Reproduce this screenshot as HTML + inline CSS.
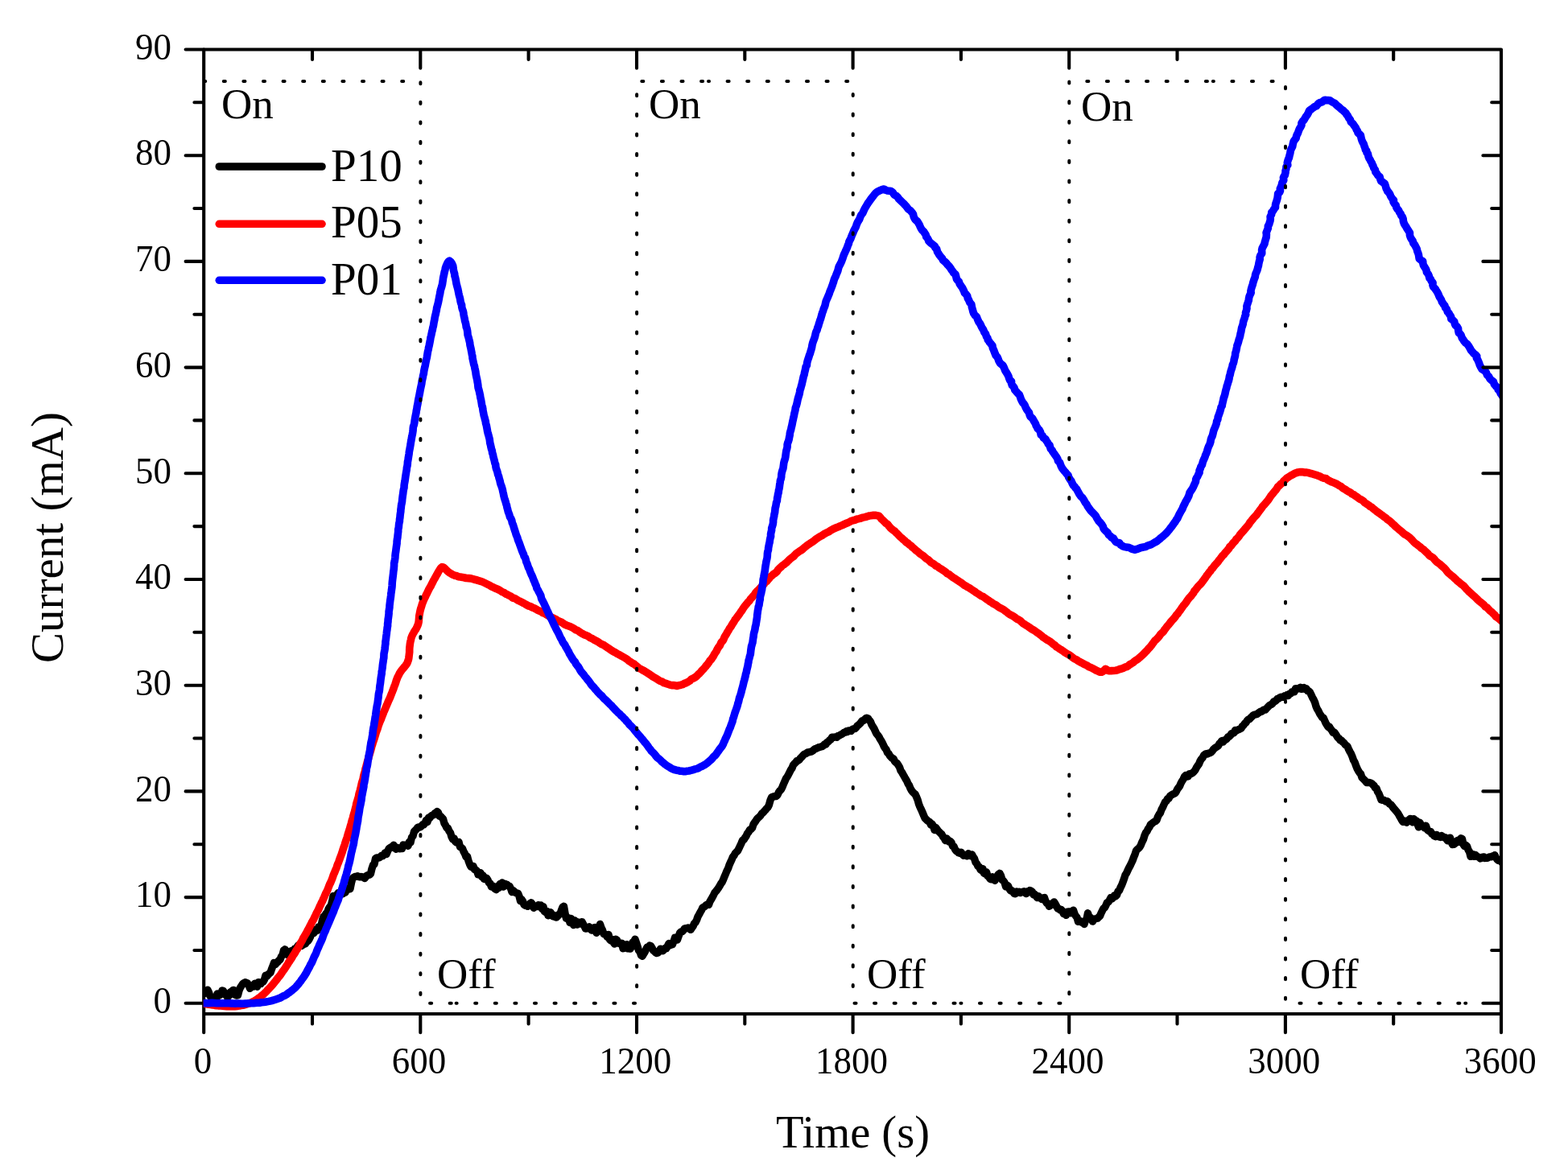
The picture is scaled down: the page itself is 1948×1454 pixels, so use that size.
<!DOCTYPE html>
<html lang="en"><head><meta charset="utf-8"><title>Current vs Time</title>
<style>html,body{margin:0;padding:0;background:#fff;overflow:hidden}svg{display:block}</style>
</head><body>
<svg width="1948" height="1454" viewBox="0 0 1948 1454" role="img" aria-label="Current (mA) versus Time (s) for P10, P05 and P01 under On/Off cycling">
<rect width="1948" height="1454" fill="#fff"/>
<path d="M253.2,61.5V1283.1999999999998M253.2,1260.0H1865.0M230.6,1246.8H252.2M241.4,1181H252.2M230.6,1115.1H252.2M241.4,1049.2H252.2M230.6,983.4H252.2M241.4,917.5H252.2M230.6,851.7H252.2M241.4,785.8H252.2M230.6,720H252.2M241.4,654.1H252.2M230.6,588.3H252.2M241.4,522.4H252.2M230.6,456.6H252.2M241.4,390.8H252.2M230.6,324.9H252.2M241.4,259H252.2M230.6,193.2H252.2M241.4,127.3H252.2M388,1261V1272.4M522.3,1261V1283.2M656.6,1261V1272.4M791,1261V1283.2M925.3,1261V1272.4M1059.6,1261V1283.2M1193.9,1261V1272.4M1328.2,1261V1283.2M1462.5,1261V1272.4M1596.9,1261V1283.2M1731.2,1261V1272.4" stroke="#000" stroke-width="4.1" stroke-linecap="round" fill="none"/>
<clipPath id="c"><rect x="252.7" y="51.5" width="1612.3" height="1208.5"/></clipPath>
<g fill="none" stroke-linejoin="round" stroke-linecap="round" clip-path="url(#c)">
<path d="M252,1233.5L253.5,1234.7L255,1232.9L256.5,1231.8L258,1230.3L259.5,1233.4L261,1237.9L262.5,1239L264,1241.2L265.5,1241.2L267,1241.5L268.5,1239.7L270,1235L271.5,1237.5L273,1236.6L274.5,1235.6L276,1231L277.5,1231.5L279,1234.1L280.5,1236.2L282,1238.7L283.5,1238.2L285,1236.8L286.5,1232.7L288,1232L289.5,1230.4L291,1230.7L292.5,1236.5L294,1237L295.5,1236.8L297,1231L298.5,1227.4L300,1225.2L301.5,1222.9L303,1221.6L304.5,1220.8L306,1221.3L307.5,1221.9L309,1224.3L310.5,1228.4L312,1225L313.5,1225.8L315,1226L316.5,1222.3L318,1223.9L319.5,1226.2L321,1220.6L322.5,1222.2L324,1222.6L325.5,1220.3L327,1220.1L328.5,1217.3L330,1212.2L331.5,1213.2L333,1211.4L334.5,1209.9L336,1208.8L337.5,1204.2L339,1200.4L340.5,1196.4L342,1198.6L343.5,1196.6L345,1195.6L346.5,1193.4L348,1192.7L349.5,1188.7L351,1186.7L352.5,1181L354,1179.8L355.5,1182.9L357,1186.6L358.5,1187.3L360,1184.2L361.5,1181.8L363,1184.5L364.5,1182.6L366,1179.2L367.5,1179L369,1176.8L370.5,1174.9L372,1174.4L373.5,1174.2L375,1175.3L376.5,1174L378,1173.2L379.5,1172.7L381,1168.9L382.5,1169.5L384,1167.3L385.5,1164.4L387,1159L388.5,1158.8L390,1159.7L391.5,1155.5L393,1155.7L394.5,1156.1L396,1151.6L397.5,1152.9L399,1150.4L400.5,1143.4L402,1139.2L403.5,1137.8L405,1135.3L406.5,1134.6L408,1129.9L409.5,1127.2L411,1126.4L412.5,1120.4L414,1113.5L415.5,1114.8L417,1115.1L418.5,1112.1L420,1109.9L421.5,1110.6L423,1110.3L424.5,1109.5L426,1110.9L427.5,1107.4L429,1109L430.5,1105.2L432,1104.2L433.5,1105L435,1104.6L436.5,1097L438,1091.5L439.5,1090.4L441,1089.5L442.5,1089.4L444,1088.7L445.5,1089.3L447,1089.9L448.5,1089.4L450,1090.1L451.5,1089.9L453,1091.5L454.5,1089.6L456,1087.9L457.5,1087.4L459,1087.4L460.5,1085.8L462,1079.4L463.5,1075L465,1074L466.5,1067L468,1066L469.5,1066.2L471,1065.9L472.5,1065L474,1063.2L475.5,1063.6L477,1062.3L478.5,1059.7L480,1061.6L481.5,1058.1L483,1054.9L484.5,1053.6L486,1052.6L487.5,1053.1L489,1050.1L490.5,1052.6L492,1055.2L493.5,1053.3L495,1053.9L496.5,1054.8L498,1054.3L499.5,1054.5L501,1050L502.5,1050.3L504,1050L505.5,1050.8L507,1051.2L508.5,1046.1L510,1047L511.5,1040.5L513,1039L514.5,1033.4L516,1031.9L517.5,1030.4L519,1028.2L520.5,1027.8L522,1028L523.5,1026.7L525,1024.7L526.5,1024.9L528,1022.9L529.5,1019.3L531,1021.4L532.5,1016L534,1016.6L535.5,1014.2L537,1013.2L538.5,1012.7L540,1010.9L541.5,1010L543,1008.6L544.5,1009.9L546,1014.3L547.5,1014.5L549,1016.1L550.5,1017.7L552,1023.3L553.5,1025.6L555,1028.9L556.5,1029.2L558,1032.9L559.5,1034.8L561,1040L562.5,1043L564,1041.6L565.5,1045.7L567,1047L568.5,1047.3L570,1046.4L571.5,1052.5L573,1053.2L574.5,1054.5L576,1058.2L577.5,1060.9L579,1064.9L580.5,1064.3L582,1069.9L583.5,1073.9L585,1077.1L586.5,1076.5L588,1076.5L589.5,1080.5L591,1081L592.5,1082.3L594,1086.7L595.5,1086.5L597,1084.8L598.5,1089.5L600,1087.9L601.5,1092.4L603,1092.7L604.5,1091.3L606,1093.6L607.5,1097.2L609,1098L610.5,1102L612,1100.8L613.5,1102.9L615,1104.7L616.5,1105.7L618,1101.6L619.5,1103.6L621,1098.5L622.5,1098.9L624,1096.9L625.5,1102L627,1098.1L628.5,1099.3L630,1099.3L631.5,1101L633,1101.3L634.5,1104.1L636,1108.6L637.5,1106.6L639,1107.8L640.5,1109.5L642,1109.9L643.5,1110.1L645,1113.7L646.5,1119.7L648,1117.8L649.5,1119.9L651,1124.2L652.5,1125.3L654,1124.7L655.5,1126.3L657,1125.5L658.5,1122.9L660,1121.8L661.5,1124L663,1128.2L664.5,1126.8L666,1126.5L667.5,1126.6L669,1124.6L670.5,1126.5L672,1125L673.5,1129.6L675,1126.6L676.5,1132.8L678,1133.7L679.5,1132.4L681,1137.7L682.5,1137.2L684,1133.8L685.5,1136.1L687,1138.7L688.5,1137.6L690,1139.8L691.5,1140L693,1138.3L694.5,1136.1L696,1135.9L697.5,1131L699,1127.4L700.5,1126.3L702,1135L703.5,1141.3L705,1140.3L706.5,1140.7L708,1146.5L709.5,1141.4L711,1145L712.5,1149.5L714,1143.9L715.5,1146.1L717,1149L718.5,1145.9L720,1146.9L721.5,1148L723,1145.6L724.5,1148.3L726,1151L727.5,1154.1L729,1153.9L730.5,1153.5L732,1152L733.5,1153.2L735,1156L736.5,1155L738,1152.9L739.5,1152.5L741,1159.3L742.5,1157.2L744,1155.4L745.5,1148.4L747,1152.9L748.5,1155.8L750,1160.6L751.5,1161L753,1162L754.5,1164.5L756,1161.4L757.5,1167.8L759,1168.9L760.5,1167.4L762,1171.1L763.5,1173L765,1167.3L766.5,1168.2L768,1171.3L769.5,1172.6L771,1172.7L772.5,1172.2L774,1178.7L775.5,1178.4L777,1174.5L778.5,1173.6L780,1178.8L781.5,1178L783,1179.1L784.5,1176.7L786,1171L787.5,1170.5L789,1167.2L790.5,1171.6L792,1176.1L793.5,1181.3L795,1182.8L796.5,1187.2L798,1188.3L799.5,1185.6L801,1183.4L802.5,1180.1L804,1177L805.5,1177L807,1175.1L808.5,1175.5L810,1177.9L811.5,1181L813,1182.2L814.5,1183.8L816,1184.6L817.5,1183.9L819,1182.4L820.5,1179.1L822,1180.9L823.5,1181.7L825,1180.2L826.5,1178.2L828,1178.5L829.5,1175.3L831,1172.4L832.5,1174.8L834,1172.3L835.5,1173.7L837,1169.7L838.5,1165.3L840,1165.7L841.5,1168L843,1163.6L844.5,1159.5L846,1157.9L847.5,1157.8L849,1156.2L850.5,1153.9L852,1153.7L853.5,1153.5L855,1153L856.5,1153.9L858,1155.4L859.5,1153.1L861,1151.2L862.5,1147.6L864,1146.2L865.5,1143.4L867,1139.1L868.5,1136.5L870,1133.6L871.5,1131.1L873,1127.8L874.5,1127.2L876,1126.1L877.5,1124.5L879,1123.9L880.5,1124.4L882,1120.2L883.5,1117.8L885,1115.2L886.5,1112.3L888,1109.2L889.5,1107.6L891,1105.6L892.5,1103.7L894,1101.2L895.5,1098.4L897,1096.4L898.5,1093.2L900,1089.5L901.5,1086L903,1082.3L904.5,1079.4L906,1075L907.5,1071.6L909,1068.5L910.5,1064.8L912,1063.1L913.5,1060.2L915,1058.7L916.5,1057.3L918,1054.4L919.5,1051.1L921,1047.9L922.5,1044.3L924,1043.8L925.5,1041.1L927,1039.1L928.5,1035.8L930,1034L931.5,1031.1L933,1030.5L934.5,1028.9L936,1024.4L937.5,1022.1L939,1020.1L940.5,1017.7L942,1016.3L943.5,1015L945,1013.3L946.5,1011L948,1009.8L949.5,1008.1L951,1006.5L952.5,1004.6L954,1003.2L955.5,1000.1L957,994.6L958.5,990.9L960,990.1L961.5,989.6L963,989.7L964.5,989.5L966,987.8L967.5,984.6L969,982.5L970.5,981.1L972,977.9L973.5,974.3L975,970.8L976.5,967.3L978,965.4L979.5,962.6L981,959.7L982.5,956.7L984,954.5L985.5,950.6L987,949L988.5,947.6L990,945.6L991.5,945.3L993,944.2L994.5,942.1L996,940.7L997.5,938.9L999,937.5L1000.5,936.8L1002,936L1003.5,935L1005,934.8L1006.5,934.4L1008,934.2L1009.5,933.2L1011,931.9L1012.5,930.6L1014,930.3L1015.5,929.6L1017,928.7L1018.5,928.6L1020,927.9L1021.5,927.6L1023,926.6L1024.5,924.8L1026,925L1027.5,922.5L1029,921.8L1030.5,920L1032,919.2L1033.5,916.3L1035,916.2L1036.5,916.2L1038,915.9L1039.5,916.3L1041,914.6L1042.5,914.2L1044,913.3L1045.5,912.6L1047,911.6L1048.5,910.4L1050,910.1L1051.5,908.8L1053,909.4L1054.5,907.9L1056,907.9L1057.5,908.4L1059,906.5L1060.5,905.7L1062,905.6L1063.5,904.3L1065,902.1L1066.5,901L1068,899.6L1069.5,898.1L1071,895.7L1072.5,895.6L1074,894.3L1075.5,892.8L1077,892.3L1078.5,892.9L1080,895.2L1081.5,896.9L1083,900.8L1084.5,903.1L1086,905.5L1087.5,908.9L1089,912L1090.5,913.7L1092,915.6L1093.5,918.7L1095,920.9L1096.5,923.7L1098,927.1L1099.5,929.8L1101,931.4L1102.5,935.3L1104,936.6L1105.5,939.3L1107,940.9L1108.5,942.4L1110,942.8L1111.5,946.1L1113,947.5L1114.5,948.6L1116,950.8L1117.5,953.3L1119,957.7L1120.5,959.7L1122,962.5L1123.5,965.1L1125,967.9L1126.5,970.2L1128,973.8L1129.5,976L1131,979.7L1132.5,982.4L1134,984.4L1135.5,985.8L1137,987L1138.5,990.3L1140,993.8L1141.5,999.3L1143,1003L1144.5,1006.1L1146,1009.5L1147.5,1013.1L1149,1016.6L1150.5,1018.1L1152,1019.6L1153.5,1020.7L1155,1021.6L1156.5,1025L1158,1024.1L1159.5,1026.3L1161,1031.5L1162.5,1028.5L1164,1030.4L1165.5,1032.6L1167,1034L1168.5,1035.6L1170,1036.9L1171.5,1039.7L1173,1041.5L1174.5,1044.5L1176,1041.9L1177.5,1043.5L1179,1045.9L1180.5,1045.5L1182,1046.9L1183.5,1051.4L1185,1051.8L1186.5,1055.5L1188,1057.6L1189.5,1058.4L1191,1059.9L1192.5,1060.4L1194,1059.1L1195.5,1061.5L1197,1063.2L1198.5,1062.4L1200,1063L1201.5,1063.8L1203,1060.8L1204.5,1062.1L1206,1063.7L1207.5,1062L1209,1064.8L1210.5,1066.8L1212,1071.7L1213.5,1073.2L1215,1076.6L1216.5,1077.1L1218,1080.6L1219.5,1081.7L1221,1079.8L1222.5,1085.2L1224,1086.2L1225.5,1083.7L1227,1088.6L1228.5,1089.6L1230,1092.2L1231.5,1092.7L1233,1089.8L1234.5,1091.2L1236,1094.2L1237.5,1090.9L1239,1088.4L1240.5,1086.5L1242,1085.3L1243.5,1088.2L1245,1093.4L1246.5,1094.5L1248,1096.5L1249.5,1101.8L1251,1100.1L1252.5,1101L1254,1104.7L1255.5,1107L1257,1106.7L1258.5,1108.1L1260,1110.6L1261.5,1110.7L1263,1108L1264.5,1108.9L1266,1108.3L1267.5,1109.5L1269,1108.7L1270.5,1108.4L1272,1107.8L1273.5,1109.7L1275,1110.5L1276.5,1107.7L1278,1108.9L1279.5,1106.5L1281,1107.2L1282.5,1108.4L1284,1111.8L1285.5,1111.2L1287,1113.2L1288.5,1115.6L1290,1113.6L1291.5,1115.9L1293,1115.6L1294.5,1117.6L1296,1115.9L1297.5,1115.6L1299,1120L1300.5,1122.4L1302,1122.8L1303.5,1126.3L1305,1124.4L1306.5,1123.2L1308,1124.3L1309.5,1120.9L1311,1123.1L1312.5,1125.9L1314,1129.1L1315.5,1129.4L1317,1130.9L1318.5,1130.4L1320,1132.5L1321.5,1135.7L1323,1133.4L1324.5,1137.4L1326,1133.1L1327.5,1133L1329,1132.9L1330.5,1134.7L1332,1132.3L1333.5,1131.1L1335,1135.8L1336.5,1138.3L1338,1140.2L1339.5,1145.3L1341,1144.1L1342.5,1144.9L1344,1146.3L1345.5,1146.1L1347,1148.5L1348.5,1144L1350,1142L1351.5,1134.8L1353,1140.4L1354.5,1140.1L1356,1142.4L1357.5,1145.1L1359,1142.5L1360.5,1141.8L1362,1141.5L1363.5,1141.2L1365,1139.6L1366.5,1138.5L1368,1134.8L1369.5,1131.7L1371,1128.8L1372.5,1127.8L1374,1124.9L1375.5,1121.5L1377,1120.9L1378.5,1118.5L1380,1115.6L1381.5,1117L1383,1115.4L1384.5,1112.8L1386,1113.8L1387.5,1112.4L1389,1107.6L1390.5,1106.9L1392,1103L1393.5,1100.1L1395,1096.2L1396.5,1092.1L1398,1087.3L1399.5,1085.1L1401,1081.8L1402.5,1078.6L1404,1075.9L1405.5,1072.8L1407,1069.6L1408.5,1065.4L1410,1061.9L1411.5,1057.1L1413,1055.5L1414.5,1054.2L1416,1052.7L1417.5,1049.8L1419,1046.1L1420.5,1043.1L1422,1038.1L1423.5,1034.8L1425,1033L1426.5,1029.8L1428,1027.9L1429.5,1024.5L1431,1023.6L1432.5,1022.3L1434,1021.2L1435.5,1020.6L1437,1019.1L1438.5,1014.9L1440,1012.1L1441.5,1010.1L1443,1006L1444.5,1003.2L1446,999.9L1447.5,996.7L1449,995.5L1450.5,992.7L1452,992.2L1453.5,989.4L1455,988.3L1456.5,987.4L1458,986.5L1459.5,986.2L1461,984.3L1462.5,981.2L1464,979L1465.5,977.1L1467,973.5L1468.5,970.8L1470,968.5L1471.5,965.2L1473,963.5L1474.5,965.1L1476,964.8L1477.5,961.8L1479,962L1480.5,961.1L1482,960.2L1483.5,958.7L1485,956.8L1486.5,953.7L1488,951.6L1489.5,949.5L1491,945.7L1492.5,943.3L1494,941.8L1495.5,938.7L1497,937.5L1498.5,936.6L1500,937L1501.5,936.1L1503,935.7L1504.5,935L1506,933.4L1507.5,931.3L1509,929.9L1510.5,928.8L1512,927.8L1513.5,926.8L1515,924L1516.5,922.7L1518,920.5L1519.5,922.1L1521,920L1522.5,919.3L1524,918.3L1525.5,915.9L1527,915.5L1528.5,914L1530,911.5L1531.5,911.2L1533,910.7L1534.5,907.5L1536,908L1537.5,907.2L1539,906.6L1540.5,905.8L1542,905L1543.5,902.5L1545,901.3L1546.5,899L1548,897.9L1549.5,895.4L1551,894L1552.5,893.6L1554,891.8L1555.5,890.4L1557,888.9L1558.5,888.1L1560,887.9L1561.5,887.5L1563,886.3L1564.5,885.4L1566,884.2L1567.5,884.4L1569,882.8L1570.5,881.9L1572,882.1L1573.5,880.4L1575,878.8L1576.5,877.2L1578,876L1579.5,875.4L1581,874.1L1582.5,871.9L1584,871.5L1585.5,870.3L1587,868.4L1588.5,868.2L1590,866.9L1591.5,866.1L1593,866.2L1594.5,866.3L1596,864.8L1597.5,864.9L1599,863.6L1600.5,864.5L1602,862.1L1603.5,861.9L1605,859.9L1606.5,859.6L1608,859.7L1609.5,855.8L1611,855.7L1612.5,856L1614,855.3L1615.5,854.4L1617,856.3L1618.5,855.7L1620,854.7L1621.5,856.5L1623,855.9L1624.5,858.6L1626,858.9L1627.5,860.4L1629,863.6L1630.5,866.8L1632,869.4L1633.5,872.7L1635,877.8L1636.5,881.3L1638,883.6L1639.5,886.9L1641,889.1L1642.5,891.5L1644,891.8L1645.5,895.1L1647,898.5L1648.5,900.9L1650,903.5L1651.5,903L1653,905.7L1654.5,907.5L1656,910.3L1657.5,909.9L1659,911.9L1660.5,914.1L1662,916.6L1663.5,917.6L1665,919.9L1666.5,920.1L1668,921.9L1669.5,923L1671,925.1L1672.5,926.4L1674,927.5L1675.5,931.2L1677,934.2L1678.5,936.7L1680,940.3L1681.5,944.6L1683,947.1L1684.5,951.2L1686,955L1687.5,957.9L1689,960.2L1690.5,961.8L1692,966.2L1693.5,967.8L1695,969.3L1696.5,970.9L1698,972.6L1699.5,972.5L1701,972.4L1702.5,972.9L1704,973.5L1705.5,975.1L1707,976.4L1708.5,979.1L1710,979.6L1711.5,983.9L1713,986.1L1714.5,990L1716,994L1717.5,994.3L1719,994.2L1720.5,995.2L1722,996.1L1723.5,995.7L1725,997.4L1726.5,999.2L1728,1000L1729.5,1001.8L1731,1003.9L1732.5,1005.6L1734,1007.3L1735.5,1009.2L1737,1011.1L1738.5,1013.9L1740,1016.5L1741.5,1019.1L1743,1021.4L1744.5,1019.9L1746,1021.3L1747.5,1022.1L1749,1020.1L1750.5,1018.8L1752,1017.4L1753.5,1018L1755,1021.9L1756.5,1017.6L1758,1020.8L1759.5,1019.8L1761,1024.1L1762.5,1027.9L1764,1022.2L1765.5,1025.3L1767,1027.2L1768.5,1027.1L1770,1028.9L1771.5,1026.1L1773,1030.9L1774.5,1032.3L1776,1033.2L1777.5,1033.6L1779,1036.5L1780.5,1036.8L1782,1039L1783.5,1039.6L1785,1037.5L1786.5,1039.5L1788,1039.9L1789.5,1040.5L1791,1038.7L1792.5,1039.7L1794,1040.9L1795.5,1040.8L1797,1042.9L1798.5,1044.8L1800,1041.7L1801.5,1041.1L1803,1046.2L1804.5,1049.5L1806,1049.4L1807.5,1048.5L1809,1045.8L1810.5,1044.6L1812,1046.2L1813.5,1043.7L1815,1041.7L1816.5,1042.4L1818,1049.4L1819.5,1051.7L1821,1050.3L1822.5,1051.6L1824,1056.1L1825.5,1058.4L1827,1064.4L1828.5,1063.8L1830,1061.8L1831.5,1064.4L1833,1062.5L1834.5,1064.1L1836,1064.8L1837.5,1065.2L1839,1066.9L1840.5,1066.3L1842,1065.1L1843.5,1064.9L1845,1066.5L1846.5,1066.2L1848,1066.2L1849.5,1065.3L1851,1064.9L1852.5,1064.9L1854,1064L1855.5,1064.3L1857,1062.8L1858.5,1065.9L1860,1068.1L1861.5,1069.3L1863,1069.4L1864.5,1069.8L1866,1071.9L1867.5,1071.6" stroke="#000" stroke-width="9.4"/>
<path d="M252,1247.2L254.5,1247.5L256.7,1247.8L259.2,1248.3L261.6,1248.5L264.2,1248.9L266.8,1249.4L269.2,1249.6L271.9,1249.9L274.3,1250L276.8,1250.3L279.3,1250.5L281.9,1250.7L284.5,1250.8L286.8,1250.8L289.3,1250.7L291.7,1250.6L294.3,1250.4L297.1,1250.1L299.5,1249.6L301.8,1249.3L304.2,1248.7L306.5,1248L308.9,1247.1L311.2,1246.3L313.4,1245.3L315.6,1244.1L317.7,1242.9L319.8,1241.6L321.7,1240.1L323.7,1238.7L325.7,1237L327.6,1235.4L329.4,1233.6L331.2,1231.8L332.8,1229.9L334.6,1228.2L336.4,1226.3L338.1,1224.4L339.7,1222.4L341.4,1220.4L342.9,1218.5L344.4,1216.5L346,1214.4L347.7,1212.5L349.1,1210.5L350.5,1208.3L351.9,1206.3L353.4,1204.3L354.7,1202.4L356,1200.3L357.5,1198.1L358.6,1196L360.1,1194L361.5,1191.8L362.8,1189.8L364.1,1187.5L365.4,1185.7L366.8,1183.4L367.9,1181.3L369.4,1179.3L370.6,1177.2L371.8,1175.2L372.9,1172.9L374.2,1170.8L375.5,1168.6L376.5,1166.3L377.8,1164.1L379.1,1161.9L380.4,1159.8L381.5,1157.6L382.7,1155.5L383.8,1153.3L384.9,1151.2L386.2,1148.9L387.3,1146.5L388.5,1144.4L389.8,1142.2L390.8,1139.8L392,1137.6L392.9,1135.5L393.9,1133.5L395.2,1131.2L396.3,1128.7L397.3,1126.3L398.5,1124L399.4,1121.9L400.7,1119.6L401.5,1117.5L402.7,1115.1L403.6,1112.8L404.6,1110.5L405.7,1108.3L406.9,1106L407.8,1103.6L408.7,1101.2L409.5,1099.1L410.7,1096.9L411.7,1094.5L412.6,1092.2L413.5,1089.8L414.3,1087.3L415.3,1085.1L416.2,1082.9L417.1,1080.6L418.2,1078.1L418.8,1075.9L419.7,1073.6L420.7,1071.3L421.6,1068.7L422.5,1066.3L423.3,1064L424.2,1061.7L425.1,1059.2L425.8,1056.7L426.6,1054.5L427.3,1052.2L428.2,1049.9L428.9,1047.4L429.6,1045.2L430.5,1042.8L431.3,1040.4L432,1037.9L432.7,1035.4L433.4,1033.2L434.2,1030.8L434.9,1028.4L435.6,1025.9L436.3,1023.5L436.9,1021.1L437.6,1018.6L438.4,1016.1L439,1013.7L439.6,1011.4L440.4,1009L441,1006.6L441.6,1004.3L442.2,1001.8L442.7,999.3L443.3,997L444.1,994.6L444.8,992.1L445.5,989.8L445.9,987.2L446.5,984.9L447.3,982.4L447.9,980L448.5,977.6L449,975.1L449.6,972.6L450.3,970.5L451.1,968L451.5,965.6L452,963.3L452.8,960.8L453.5,958.4L453.9,955.9L454.6,953.5L455.3,951.1L455.9,948.7L456.5,946.4L457.2,944L457.8,941.6L458.6,939.1L459.3,936.7L460,934.3L460.7,932.1L461.3,929.8L461.9,927.2L462.8,924.8L463.4,922.5L464.3,920L465,917.9L465.8,915.4L466.5,913L467.1,910.7L468,908.3L468.9,906L469.6,903.7L470.3,901.3L471.2,899L472.1,896.6L473.2,894.3L474,892.1L474.9,889.8L475.9,887.3L476.7,885L477.7,882.9L478.7,880.5L479.6,878.2L480.6,876L481.6,873.6L482.5,871.4L483.6,869.2L484.6,866.9L485.5,864.6L486.4,862.2L487.3,860L488.2,857.6L489.1,855.4L489.9,852.9L490.9,850.5L491.7,848.1L492.4,845.6L493.3,843.4L494.1,841.3L495.2,839.3L496.3,836.9L497.6,834.9L499.1,832.8L500.8,830.7L502.5,828.8L504,826.9L505.5,824.8L506.5,822.5L507.3,820.2L507.8,817.9L508.1,815.5L508.4,813L508.7,810.5L508.7,807.9L508.8,805.3L509.1,802.8L509.4,800.1L509.8,797.7L510.4,795.4L510.8,793.1L511.6,790.9L512.6,788.6L513.9,786.4L515.2,784L516.6,782.1L517.8,779.8L518.8,777.6L519.6,775.3L520.2,772.7L520.4,770.1L520.6,767.7L520.8,765.2L521.3,762.7L521.7,760.5L522.3,757.9L523,755.4L523.8,753L524.5,750.5L525.4,748.2L526.3,746L527.3,743.8L528.5,741.5L529.5,739.1L530.6,737.1L531.7,734.7L532.8,732.4L534,730.2L535.3,728.1L536.4,725.8L537.5,723.7L538.6,721.4L539.8,719.4L541,717.2L542.2,715L543.5,712.9L544.7,710.5L546.2,708.2L547.7,705.9L549.2,704.6L550.8,704.9L552.8,706.6L554.6,708.5L556.5,710.3L558.4,711.8L560.8,713.1L562.5,714.2L564.8,715.2L567.1,715.6L569.5,716.7L572,717L574.6,717.4L577.3,718L579.3,718.5L582,718.6L585,718.9L587.7,719.6L589.5,720.2L592.1,720.8L593.8,721.4L596.3,722.1L599.2,723L601.3,724L603.4,725L605.8,726.2L608,727.3L610,728.6L612.3,729.7L614.5,730.7L616.9,731.7L619.8,733L621.8,734.1L624.2,735.8L626.3,736.5L628.2,738L630.3,738.9L632.3,740L634.7,741.1L637,743L639.6,743.7L641.7,744.9L643.8,746.3L645.9,747.2L648,748.3L650.6,749.6L652.4,750.6L654.5,751.9L656.9,753.1L659.2,753.7L661.5,755L663.8,755.9L666,757L668,758.4L670.3,759.3L672.2,760L674.4,761.7L676.8,762.4L678.9,763.9L681.6,765.4L683.8,766.5L685.7,767.4L688,768.4L690.3,769.6L692.6,771.1L695,772.2L697.1,773L699.3,774.3L701.3,775.8L703.6,776.9L705.8,777.7L708.6,778.7L710.8,779.9L712.9,781L714.9,782.6L717.6,783.5L719.6,785L721.5,786.3L723.6,787.5L726,788.9L728.3,789.6L730.6,790.6L732.9,792.3L735.1,793.3L737.4,794.6L739.1,795.7L741.6,796.9L743.7,798.2L745.4,799.4L747.8,800.8L749.9,801.6L752.3,803.2L754.6,804.8L756.4,805.9L758.6,807.5L760.3,808.6L762.4,809.9L764.9,811.1L766.7,812.4L768.8,813.3L771.1,814.7L773.3,815.9L775.5,817.1L777.6,818.3L779.8,819.9L781.3,821.4L783.5,822.7L785.5,824.2L787.5,825L789.6,826.8L791.8,828.5L793.8,830.4L796.2,831.5L798.5,832.9L800.5,833.9L802.8,835.3L804.4,836.4L806.8,837.9L809.1,839.4L811.3,841.1L813.4,842.2L815.8,843.6L818.2,845.2L820.3,846.5L822.7,847.2L824.9,848.7L827.4,849.4L829.1,850L831.5,850.8L834.5,851.6L836.7,851.6L838.7,851.8L841,852.5L843.3,851.7L846,851.2L847.9,850.7L850.2,849.4L852.6,848.6L854.7,847.5L857.1,846L858.8,844.1L861,843.1L863.4,841.9L865.7,840.1L867.6,838L869.4,836.5L871,834.6L872.4,832.9L874.4,831L876.1,829L877.6,827L879.2,825.2L880.7,823.2L881.8,821.2L883.5,819.7L884.8,817.7L886.3,815.5L887.3,813.4L888.5,811.5L890.1,809.3L890.9,807.2L892.5,804.6L894.1,802.6L895.2,800.3L896.2,798.1L898.2,796.1L899.2,793.9L900.1,791.7L901.2,789.8L902.5,787.8L903.6,785.7L905,783.6L906.3,781.1L908,778.9L909.2,776.7L910.5,774.6L911.9,772.7L913.1,770.3L914.6,768.6L916.2,766.3L917.6,764.5L919,762.5L920.3,760.5L922,758.3L923,756.4L924.7,754L926.1,752.3L927.7,750.4L929,748.7L931.1,746.6L932.4,744.4L934.2,742.6L935.5,740.9L937.4,739.1L938.5,737L940.5,734.8L942.3,733.3L944.1,731.2L945.5,729.6L947.4,727.9L949.2,725.9L950.7,723.6L952.5,722.4L954.1,720.4L955.9,718.6L957.3,716.6L959,715.4L960.8,713.6L963.2,712.1L965.2,710.4L966.5,708.3L968.2,706.4L970.7,704.3L972.4,702.5L974.4,701.3L975.9,700.1L977.8,698.5L979.7,696.5L981.4,694.8L983.5,693.2L985.9,691.5L987.4,689.8L989.1,688L990.9,686.8L993,685.2L995.1,684L997.2,682.5L999,680.8L1000.9,679.3L1002.8,677.7L1004.9,676.3L1007,674.8L1009.4,673.4L1011.2,672.1L1013.1,670.5L1015.3,668.9L1016.8,667.9L1019.5,666.3L1021.5,665.4L1023.3,664L1025.5,662.8L1027.5,661.8L1030,660.6L1032.3,658.9L1034.6,657.7L1036.9,656.6L1039.1,655.6L1041.6,654.8L1043.6,653.7L1046.3,652.8L1048.3,651.7L1050.5,650.8L1052.9,649.8L1055.7,648.5L1057.6,647.3L1059.6,646.8L1062.2,646.3L1064.2,645.2L1067.2,644.6L1069.7,644L1072.1,643.1L1074.5,642.6L1076.8,642L1079.6,641.1L1081.8,640.8L1084.2,640.4L1087.2,640.2L1089.3,640.6L1091.9,641.2L1093.5,642.8L1095.2,645.1L1097.1,646.7L1098.9,648.4L1100.5,650.2L1102.7,651.4L1104.3,653.7L1106.1,655.8L1107.8,657.3L1109.4,658.7L1111.5,660.1L1113.1,661.8L1114.6,663.1L1116.4,665.1L1118.4,667.1L1120.2,668.6L1122.1,670.4L1123.8,671.7L1125.5,673.7L1127.8,675L1129.7,676.9L1131.9,678.3L1133.6,680.2L1136,682L1137.4,683.5L1139.2,684.8L1141,686.2L1143.1,688.2L1145.2,689.6L1147.2,690.8L1149,692.6L1151.2,694.5L1153.2,695.7L1154.8,697.1L1156.5,698.8L1158.7,700.1L1160.6,701.3L1162.6,703.1L1164.9,704.1L1166.6,705.6L1168.8,706.9L1171.2,708.4L1173.3,709.8L1175.2,711.2L1177,712.9L1179.3,713.9L1181.5,715.8L1183.6,717.4L1185.6,718.6L1187.4,719.8L1189.2,721L1191.6,722.6L1194.1,724.1L1195.9,725.5L1198,727.2L1200.6,728.6L1202.2,729.6L1204.4,730.8L1206.6,732.3L1208.8,733.7L1210.6,734.8L1212.7,736.5L1215.2,738L1217.3,739.3L1219.4,740.8L1221.6,741.6L1223.7,743.1L1225.5,744.5L1227.7,745.8L1229.4,747.2L1231.7,748.5L1233.5,749.9L1236,751.2L1238.2,752.5L1240.1,754L1242.2,755.3L1245.1,756.8L1246.9,757.7L1248.8,759.3L1250.7,760.6L1252.3,762.1L1254.5,763.6L1257.1,764.8L1259.4,766.2L1261.3,767.5L1263.2,769.1L1265.5,770.2L1267.7,771.4L1269.3,773.2L1271.2,774.8L1273.5,776.2L1275.8,777.7L1277.9,779L1280,780.5L1281.9,781.9L1284.3,783.1L1286.3,784.4L1288.1,785.9L1290.1,787.1L1292.1,788.7L1294.3,790.3L1295.9,792L1298,793.1L1300.1,794.7L1302.4,796L1304.4,797.1L1306.5,798.7L1308.4,800.5L1310.8,802.1L1312.5,803.8L1314.5,805L1316.4,806.4L1318.7,807.7L1320.7,809.1L1322.7,810.7L1324.7,811.9L1326.8,813.1L1328.9,814.2L1331.1,815.9L1333.2,817.6L1335.1,818.9L1337.5,819.9L1339.5,821.4L1341.7,822.7L1344.2,823.9L1345.9,824.9L1348.4,826.1L1350.3,826.9L1352.7,828.7L1354.7,829.3L1357.2,830.5L1359.4,831.7L1361.6,833L1364.2,834.1L1366.3,835.1L1368.4,835.3L1370.1,834.5L1372,832.8L1373.3,831.3L1374.5,831.7L1376.2,833.3L1378.2,833.7L1380.7,833.6L1383.1,833.5L1385.8,833.2L1388.4,832.7L1390.4,831.8L1392.7,831.3L1395.2,830.4L1397.6,829.2L1399.6,828.6L1401.8,827.5L1403.4,825.8L1405.5,824.8L1408,823.2L1409.7,821.6L1411.6,820.3L1413.6,819.1L1415.8,817.2L1417.7,815.4L1419.7,813.8L1421.3,812.1L1423.2,810.1L1425,808.4L1426.7,806.2L1428.7,804.3L1430.2,802.4L1431.6,800.4L1433.2,798.3L1434.7,796.2L1436.9,794.3L1438.4,792.7L1440,790.9L1441.7,788.3L1443.9,786.3L1445.6,784.6L1446.8,782.5L1448.4,780.6L1450.1,778.2L1451.7,776.5L1453.3,774.5L1454.8,772.5L1456.6,770.5L1458.4,768.6L1460,766.7L1461.5,764.3L1463.2,762.7L1464.6,760.5L1466,758.8L1467.6,756.4L1469.1,754.3L1470.5,752.2L1471.9,750.7L1473.8,748.3L1475,746.3L1476.5,744.2L1478.3,742.1L1479.9,740.5L1481.3,738.5L1482.8,736.7L1483.8,734.5L1485.7,732.6L1487.1,730.6L1488.6,728.6L1490.8,726.5L1492.4,724.9L1493.6,723.1L1494.9,721.5L1496.4,719.4L1497.9,717.4L1499.1,715.4L1500.6,713.6L1502.3,711.2L1503.8,709.7L1505,707.5L1506.9,705.7L1508.3,703.6L1509.9,701.7L1511.4,700.1L1513.1,698.2L1514.4,696.3L1515.9,694.5L1517.3,692.6L1518.8,690.6L1520.5,689.1L1521.9,687.2L1523.6,685.3L1525.3,683.3L1526.9,681.5L1527.6,679.7L1529.6,678.2L1531,676.1L1532.8,673.9L1534.6,672.2L1535.9,670L1537.4,668.8L1539.5,666.2L1540.4,664.6L1542.1,662.6L1543.8,660.8L1545.4,659L1546.7,657.4L1548.2,655.6L1550,653.5L1551.6,651.5L1552.8,649.4L1554.6,647.2L1555.9,645.6L1557.8,643.3L1559.5,641.5L1561.3,639.6L1562.7,637.5L1564.2,635.6L1565.6,633.6L1567.1,631.8L1568.6,629.4L1570.1,627.8L1571.8,625.8L1573.7,623.6L1575.4,621.6L1576.9,619.3L1578.4,617L1580,614.9L1581.7,613L1583.1,611.1L1585,609L1586.4,607L1587.6,604.8L1589.6,603.3L1591.2,601.5L1593.6,599.8L1594.7,597.9L1596.7,596.2L1598.5,594.3L1600.4,593.1L1602.6,591.6L1604.6,590.5L1606.7,589.4L1608.5,588.3L1610.6,587.6L1612.6,586.9L1615.3,586.5L1617.4,586.6L1620.3,587.1L1622.6,587.1L1625,587.4L1627.5,588.2L1630,588.7L1632.7,589.6L1635.2,590.3L1637.6,591.2L1640.4,592.3L1642.3,593.5L1645,594.3L1647.5,594.8L1649.6,596.5L1652.6,598.1L1654.6,599L1657,599.8L1659.4,600.9L1661.4,601.9L1663.5,603.3L1665.7,604.3L1667.6,606.1L1669.3,607.3L1671.5,608.4L1673.5,609.9L1675.8,611.2L1677.8,612.1L1679.7,613.9L1681.9,614.8L1683.4,616L1685.6,617.4L1687.6,618.9L1689.9,620.4L1692.1,621.5L1694.1,623.1L1695.6,624.9L1697.4,625.9L1700.2,627.7L1702.1,629.4L1704.3,630.4L1706.2,632.2L1708,633.6L1709.9,635.2L1711.8,636.5L1713.6,637.8L1715.8,639.5L1717.8,640.8L1719.9,642.6L1722.2,644.1L1723.9,645.8L1726.2,647.3L1728,648.7L1729.8,650.6L1731.9,652.4L1733.4,654L1735.3,655.6L1736.9,657L1739,658.8L1741.2,660.5L1743.2,662.4L1745.1,664.1L1747,665.1L1749.3,666.6L1751.1,667.9L1752.9,669.7L1754.7,671.5L1756.2,673.3L1758.3,675.2L1760.3,676.5L1762.2,678.1L1764.3,679.6L1766,681.4L1768.2,682.6L1769.8,684.3L1772.1,686.4L1774,688.1L1775.4,690L1777.2,691.3L1779.6,692.6L1781.6,694.5L1783,696.3L1784.6,698L1786.4,699.4L1788.9,701.1L1790.8,702.9L1792.5,704.4L1793.9,705.5L1796,707.7L1797.5,709.8L1799.5,712.1L1801.4,713.7L1803.3,715.3L1805.1,716.6L1807,718.5L1808.5,719.8L1810.4,721.9L1812.2,723.1L1814.3,725L1816.4,726.7L1818.5,728.2L1820.1,730L1821.4,731.7L1823.6,733.7L1825.2,735.5L1827.2,737.2L1828.9,738.8L1830.5,740.3L1832.4,741.8L1834.2,743.6L1836.1,745.5L1837.7,747L1839.8,748.6L1841.7,750.2L1843.8,752L1845.2,753.9L1847.5,755.1L1849.2,757L1851.2,759.1L1852.9,760.3L1854.8,762.3L1856.7,763.9L1858.3,766.1L1860,767.2L1862.2,768.9L1864.2,770.7L1866.4,772.6L1867.9,774.3L1869.5,775.4L1871.7,777.1L1873.1,778.8" stroke="#ff0000" stroke-width="9.6"/>
<path d="M252.1,1246.8L254.5,1246.6L257,1246.5L259.3,1246.7L261.7,1246.4L264,1246.3L266.6,1246.5L269.2,1246.7L271.9,1246.7L274.4,1246.7L276.7,1246.7L279.2,1246.7L282,1246.8L284.3,1246.8L287.1,1246.9L289.6,1247L292.1,1247.1L294.5,1247L297.1,1247L299.7,1247.2L302.1,1247.2L304.6,1247.1L307.2,1247L309.7,1246.7L312.4,1246.7L314.8,1246.7L317.3,1246.4L319.8,1246.3L322.2,1246.2L324.7,1245.7L327.3,1245.5L329.5,1245.2L331.9,1244.8L334.1,1244.4L336.6,1243.8L338.9,1243.3L341.2,1242.5L343.3,1241.9L345.6,1241L347.8,1240.2L349.6,1239.2L351.5,1238.1L353.9,1237.2L355.9,1236L357.8,1234.4L359.9,1233.1L361.7,1231.6L363.5,1230.2L365.4,1228.6L367.4,1226.9L368.8,1225.1L370.3,1223.5L372,1221.3L373.5,1219.5L374.8,1217.4L376.3,1215.5L377.9,1213.2L379.2,1211.1L380.6,1208.9L381.8,1206.4L383.2,1203.9L384.5,1201.6L385.7,1198.9L387.1,1196.7L388.2,1194.2L389.2,1191.8L390.3,1189.1L391.8,1186.4L392.9,1183.8L393.8,1181.2L395,1178.6L396,1176.3L397.1,1173.6L398.3,1171.2L399.5,1168.6L400.6,1166L401.3,1163.6L402.2,1161.2L403.2,1158.9L404.4,1156.4L405.2,1154L406.3,1151.7L407.3,1149.3L408.3,1147.1L409.2,1144.9L410.2,1142.6L411.1,1140.4L412.1,1137.9L413.1,1135.7L414.1,1133.5L414.9,1131.3L415.7,1129L416.7,1126.9L417.5,1124.7L418.4,1122.5L419.3,1120.4L420.2,1118.3L420.8,1116L421.7,1113.8L422.4,1111.3L423.2,1109.2L424.2,1106.7L424.9,1104.6L425.6,1102.2L426.3,1099.8L427.1,1097.5L427.7,1095.2L428.4,1092.8L429,1090.6L429.7,1088.3L430.4,1086.1L431,1083.7L431.7,1081.2L432.4,1078.7L432.7,1076.5L433.5,1074L434.1,1071.7L434.7,1069.1L435.2,1066.6L435.7,1064.2L436.1,1061.9L436.6,1059.5L437.3,1057L437.8,1054.6L438.4,1052.1L439.1,1049.7L439.6,1047.1L439.8,1044.8L440.3,1042.3L440.9,1039.7L441.4,1037.4L441.9,1034.9L442.3,1032.4L442.8,1030L443.1,1027.5L443.6,1025L444.1,1022.3L444.6,1019.9L444.8,1017.4L445.1,1014.8L445.7,1012.2L446.1,1009.7L446.5,1007.2L446.8,1004.9L447.3,1002.3L447.9,999.8L448.4,997.2L448.9,994.8L449.2,992.4L449.4,989.8L450,987.3L450.4,984.9L450.9,982.5L451.4,980L451.9,977.6L452,974.9L452.7,972.5L453.1,970L453.5,967.8L453.8,965.3L454.3,962.6L454.6,960.2L455.1,957.8L455.3,955.1L456,952.7L456.5,950.3L456.8,948.1L457.1,945.5L457.7,943L457.9,940.6L458.5,937.9L458.9,935.6L459.5,932.9L459.8,930.6L460.1,928.1L460.5,925.8L460.8,923.4L461.4,921L462,918.5L462.3,916.1L462.8,913.7L463.1,911.1L463.3,908.6L463.7,906.1L464.1,903.8L464.7,901.3L464.9,898.9L465.4,896.5L465.8,894.1L466.1,891.6L466.6,889.1L466.9,886.7L467.2,884.3L467.6,881.7L468,879.2L468.4,876.9L469,874.4L469.3,872L469.6,869.6L470,867.1L470.2,864.4L470.5,861.9L471.1,859.5L471.5,857L471.7,854.6L472,851.9L472.4,849.7L472.7,847.1L473,844.5L473.3,842.1L473.7,839.7L474.2,837.1L474.2,834.9L474.7,832.3L475.1,829.8L475.3,827.4L475.6,824.9L476,822.5L476.3,820L476.8,817.6L476.9,815.1L477,812.4L477.5,810L478,807.4L478.3,804.9L478.5,802.5L478.9,800L478.9,797.5L479.3,795.2L479.6,792.6L479.9,790.1L480.3,787.4L480.5,784.9L480.9,782.6L481.1,780.2L481.6,777.8L481.6,775.2L482,772.5L482.1,770.1L482.5,767.5L482.8,765.1L483.1,762.5L483.1,759.9L483.5,757.7L483.9,755L484,752.6L484.3,750L484.6,747.5L484.9,745.2L485.3,742.7L485.6,740.2L485.8,737.7L486.2,735.2L486.5,732.9L486.9,730.1L487.1,727.8L487.2,725.2L487.4,722.7L487.7,720L488,717.6L488.3,715.1L488.6,712.7L488.8,710.2L489.2,707.8L489.4,705.4L489.6,702.8L489.6,700.2L490.2,697.7L490.6,695.2L490.9,692.8L491,690.5L491.3,687.8L491.7,685.4L492,682.9L492.3,680.5L492.7,677.8L493.1,675.3L493.1,673L493.4,670.5L493.9,667.9L494.1,665.3L494.4,663L494.7,660.5L494.7,658L495.3,655.5L495.5,652.9L495.8,650.3L496.4,647.9L496.5,645.4L496.9,643.1L497.1,640.6L497.4,638.2L497.8,635.8L497.9,633.5L498.3,630.7L498.5,628.3L499,626L499.5,623.3L499.7,620.8L500,618.3L500.3,615.9L500.7,613.5L501,610.8L501.4,608.4L502,606.1L502.1,603.4L502.4,601L502.9,598.5L503.3,596L503.6,593.7L503.9,591.4L504.3,588.9L504.7,586.4L505.2,583.8L505.4,581.2L506,578.9L506.3,576.5L506.4,574.1L506.9,571.6L507.3,569.1L507.7,566.6L508.1,564.2L508.3,561.8L508.8,559.2L509.3,556.8L509.7,554.5L510.1,552L510.4,549.7L510.9,547.2L511.3,544.9L511.7,542.4L512.3,539.9L512.7,537.5L513.1,534.7L513.2,532.4L513.5,530.1L514.5,527.3L514.9,525L515.2,522.4L515.6,520.2L516,517.7L516.5,515.3L517,513L517.3,510.3L517.9,507.8L518.2,505.3L518.7,502.9L519.2,500.5L519.5,498.1L520,495.5L520.5,493.2L521,490.8L521.5,488.3L521.9,485.9L522.4,483.4L522.9,481L523.4,478.7L523.9,476.2L524.2,473.7L524.7,471.4L525.3,468.9L525.7,466.5L526.4,464.1L526.7,461.3L527.2,458.8L527.7,456.5L528.3,454.1L528.7,451.6L529.2,449.1L529.7,446.7L530.3,444.3L530.7,441.9L531.1,439.3L531.5,436.9L532.1,434.6L532.5,432.2L533.1,429.8L533.6,427.3L534.1,424.8L534.6,422.1L535,419.5L535.6,417.3L536.1,414.9L536.6,412.4L537.3,409.9L537.7,407.5L538.4,404.9L538.8,402.4L539.2,399.9L539.8,397.5L540.1,395.1L540.6,392.6L541.3,390.1L541.7,387.9L542.3,385.5L542.6,382.9L543.3,380.4L543.9,378.1L544.5,375.6L545,373L545.5,370.6L545.9,368.1L546.5,365.7L546.9,363.4L547.3,360.7L548.2,358L548.9,355.6L549.5,353.3L549.9,350.6L550.3,348L550.6,345.6L551.1,343.2L551.7,340.6L552.2,338L552.9,335.5L553.4,333.1L554.1,331L555.1,328.7L556,326.7L557.2,324.9L558.4,324.2L559.9,325.3L561.6,327.8L562.7,330.4L563.1,332.8L563.4,335.2L564,337.9L564.7,340.3L564.9,342.8L565.6,345L566.1,347.3L566.6,349.9L567,352.4L567.6,354.7L568.3,357.4L568.9,359.6L569.4,362.1L569.9,364.7L570.4,367L571.1,369.4L571.7,371.8L572,374.2L572.6,376.6L573.6,379L573.7,381.5L574.3,384L575.3,386.5L575.8,388.8L576.1,391.2L576.6,393.7L577.2,396.1L577.5,398.5L578.3,400.9L578.9,403.8L579.2,406.3L580,408.2L580.6,411L580.9,413.8L581.1,416.3L581.8,418.4L582.4,420.6L583,423.3L583.7,426L583.9,428.4L584.3,430.2L585,433.1L585.5,435.8L585.9,437.8L586.3,440.3L586.9,442.7L587,445L587.6,447.8L588.1,450L588.6,452.7L589.4,454.9L589.9,457.7L590.4,459.9L590.9,462.3L591.2,465.1L591.7,467.5L592.3,470.1L592.8,472.3L593.1,474.6L593.6,477L593.8,479.4L594.1,481.9L594.9,484.5L595.5,486.7L595.9,489L596.5,491.3L596.9,494.3L597.5,496.5L597.9,498.8L598.3,501.3L598.7,503.9L599.5,506.2L599.8,508.6L600.2,511.2L600.7,513.6L601.2,516.3L602,518.9L602.5,521.1L603.3,523.9L603.5,526.1L604.3,528.6L604.8,531.4L605.2,533.5L605.6,535.9L606.2,538.5L606.9,540.7L607.5,543.1L608.2,545.8L608.5,548.3L608.8,550.7L609.5,553.1L609.9,555.3L610.5,557.8L611.3,560.1L611.6,562.6L612.5,565.2L612.9,567.8L613.6,570.3L614.3,572.8L614.8,575.5L615.7,577.4L615.9,580L616.4,582.2L617.3,584.6L618,586.7L618.5,589.4L619.6,592L620.1,594.4L620.9,596.9L621.3,598.9L621.9,601.4L622.9,603.8L623.6,606L624.3,608.4L624.8,611L625.4,613.5L625.9,616.1L626.5,618.5L627.2,620.9L628,623.2L628.7,625.8L629.5,628.1L629.9,630.6L630.6,632.8L631.2,635.5L632,637.7L632.8,639.8L633.5,642.5L634.9,644.7L635.8,646.9L636.3,649.6L637.2,651.6L638,654L638.7,656.4L639.4,658.7L640.2,661L641,663.7L641.8,665.8L642.8,668.1L643.4,670.6L644.2,672.7L645.2,675L646,677.4L646.8,679.6L647.6,681.8L648.4,684.2L649.4,686.6L650.5,688.9L651.1,691.3L652.4,693.1L653.2,695.5L653.8,698.2L654.9,700.5L655.6,702.8L656.5,705.4L657.6,707.3L658.5,710L659.4,712.2L660.4,714.5L661.5,716.7L662.4,719.1L663.2,721.3L664.3,723.6L665.2,726.2L666.3,728.4L666.8,730.8L668.2,733L669.2,735.1L670.6,737.6L671.9,740.3L672.3,742.5L673,744.7L674.2,746.8L675.4,749.1L676.4,751.3L677.6,753.8L678.7,756.1L679.6,758.3L680.7,760.5L681.7,763L682.8,765.2L683.9,767.4L685.2,769.7L686.2,771.8L687.2,774L688.4,776.6L689.6,778.8L690.7,781.2L691.7,783.2L693.2,785.6L694.4,788.1L695.3,790.2L696.4,792.6L697.7,794.6L698.9,797.3L700.1,799.4L701.7,801.3L702.8,803.7L704,805.6L705.2,807.8L706.6,810.2L707.4,812.2L708.7,814.4L710,816.5L711.2,818.6L712.8,820.9L714.5,822.8L715.6,825.1L717,827L718.5,828.7L719.7,830.7L720.9,833.1L722.2,835L723.8,836.8L725.4,838.7L726.7,840.6L728.5,842.6L730,844.7L731.6,846.5L733.2,848.7L734.4,850.6L736.1,852.6L737.8,854.2L739.2,856.1L740.9,857.9L742.4,859.8L744.2,861.6L745.7,863.3L747.6,864.7L749,866.5L750.5,868.3L752.3,869.7L754.2,871.6L756.1,873.4L757.6,875.1L759.4,876.6L761,878.6L762.9,880.4L764.3,882.1L766.2,883.9L768,885.9L770.1,887.4L771.5,889.2L773.5,890.8L774.9,892.4L776.9,894.3L778.6,896.6L780.4,898.3L781.9,900.4L783.7,902.1L785.5,903.9L787.3,905.9L788.8,908L790.8,910.2L792.6,912.5L794.4,914.3L796.1,916.3L797.6,918.3L799.4,920.3L801.1,922.6L803.1,924.8L804.6,926.8L806,929.1L807.8,931.1L809.4,933.5L811.6,935.5L813.2,937.2L814.6,939.1L816.5,941.4L818.4,942.8L820.6,944.8L822.3,946.6L824.3,948.1L826,949.7L828.1,951.2L829.8,952.3L831.9,953.4L833.9,954.9L835.7,955.7L837.8,956.5L840.4,957.2L842.7,957.5L844.8,958.2L846.8,958.2L848.8,958.6L851.1,958.7L853.5,958.3L855.9,958L858.4,957.4L860.4,956.9L862.5,956.2L865,955.5L867.1,954.9L869,953.7L871.3,952.7L873.5,951.5L875.8,950.2L877.6,949L879.8,947.2L881.4,945.7L883.3,944.2L885.1,942.2L886.6,940.3L888.4,938.9L889.9,937.1L891.3,935.1L892.6,933.2L894.1,931L895.5,929.2L897,927.4L898.5,924.7L899.3,922.4L900.4,920.4L901.2,918.1L902.4,915.9L903.5,913.3L904.5,910.8L905.4,908.4L906.3,906.1L907.3,903.9L908.3,901L909.2,898.6L910.1,896.2L910.6,893.5L911.4,891.4L912.1,889L912.9,886.2L913.8,883.8L914.7,881.2L915.5,878.9L916.3,876.5L916.8,874.1L917.6,871.9L918.1,869.4L918.7,866.9L919.6,864.7L920.3,862.2L921,859.8L921.6,857.2L922.3,854.7L923,852.2L923.5,849.9L924.1,847.3L924.8,845.2L925.4,842.6L926.1,840.2L926.4,837.9L927.3,835.2L927.7,832.8L928.3,830.3L929,827.6L929.3,825.3L929.9,822.8L930.1,820.6L930.9,818.1L931.4,815.8L932.3,813.1L932.6,810.3L932.8,808.3L933.2,805.5L933.5,803.5L934.2,801.2L935,798.5L935.3,796L935.6,793.7L936.1,791.1L936.3,788.6L936.8,786.1L937.5,783.9L938,781.6L938.3,779.1L939.1,776.4L939.4,774.2L939.8,771.7L940.2,769.3L940.6,766.8L940.7,764.3L941.1,761.7L941.4,759.1L941.9,756.8L942.2,754.2L943,752.1L943.3,749.7L943.7,747.3L944.3,744.6L944.3,742.3L944.9,739.7L945.6,737.4L946,735.1L946.6,732.8L946.9,730.1L947.2,727.5L947.7,725.3L948,722.9L948.1,720.5L948.7,717.6L949.1,715.3L949.6,712.7L950.1,710.5L950.4,708.2L950.7,705.7L951.1,702.8L951.6,700.5L951.9,698.1L952.5,695.6L953,693.2L953.3,690.9L953.4,688.1L953.7,685.9L954.5,683.3L954.6,681.1L955.1,678.4L955.6,675.9L956.2,673.5L956.4,671.4L956.9,668.8L957.6,666.5L957.5,663.9L958,661.4L958.6,659.1L958.7,656.5L959.5,653.9L960.2,651.6L960.6,648.9L960.6,646.4L961.1,644L961.7,641.5L961.9,639.4L962.6,636.7L962.9,633.5L963.1,631.4L963.8,629.1L964.2,626.6L964.5,624.5L965.4,622.2L965.6,619.2L966.2,616.7L966.5,614.4L967.2,611.9L967.4,609.6L968,607.1L968.4,604.8L968.7,602L969.1,599.9L969.4,597.2L970.2,595.1L970.7,592.6L970.8,589.8L971.3,587.1L972,584.7L972.9,582.2L973.2,579.9L973.5,577.7L973.8,575.2L974.5,572.6L975.4,570L975.8,567.8L976.1,565.4L976.4,563L976.8,560.4L977.6,557.7L978.1,555.3L978.1,552.6L978.6,550.5L979.5,548.2L980.2,545.8L980.6,543.4L981.2,540.7L981.3,538.6L981.9,536.2L982.7,533.7L983.1,531.5L983.8,528.8L984.3,526.3L984.8,523.7L985.4,521.1L985.8,519L986.4,516.8L986.8,514.2L987.4,511.9L988,509.4L988.3,506.8L989.3,504.3L989.9,502.1L990.5,499.4L991,496.9L991.6,494.5L992.3,492.3L993.1,489.7L993.5,487.5L993.9,484.8L994.8,482.5L995.4,480L996.1,477.7L996.6,475.3L997.2,472.8L997.7,470.6L998.3,467.7L999.1,465.7L999.5,463.2L1000.2,460.6L1000.7,458.2L1001.1,455.8L1002.4,453.8L1002.6,451.1L1003.2,448.7L1004,446.1L1004.8,443.8L1005.5,441.4L1006.4,439.3L1007.1,436.7L1007.9,434.2L1008.6,431.6L1008.9,429.4L1009.5,426.7L1010.3,424.2L1011.2,421.9L1012,419.8L1012.7,417.2L1013.2,414.7L1013.9,412.4L1015.1,410L1015.8,407.2L1016.8,404.8L1017.4,402.4L1018.2,400.2L1018.7,398.2L1019.7,395.7L1020.3,393.3L1021,391L1021.7,388.4L1022.6,386.3L1023.2,384L1024.3,381.6L1025.1,379.2L1025.6,376.6L1026.2,374.2L1027.3,371.8L1028.4,369.3L1029.2,367.2L1030.3,364.8L1031,362.3L1032,360L1032.9,357.8L1033.8,355.4L1034.6,353L1035.5,350.4L1036.2,347.8L1037.1,345.4L1038.1,343.5L1038.9,341.3L1040,338.6L1041,336.1L1041.5,333.8L1042.2,331.4L1043.3,329.4L1044.4,327.3L1045.5,325L1046.2,323L1047,320.8L1047.9,318.1L1048.7,315.8L1049.7,313.8L1050.7,311.6L1051.8,309.1L1052.6,307.3L1053.3,305.1L1054.4,302.7L1054.8,300.4L1055.8,298.5L1056.9,296.4L1057.8,294.1L1058.6,291.9L1059.6,289.7L1060.5,287.4L1061.6,285.1L1062.7,283.2L1063.5,281.3L1064.4,278.6L1065.4,276.2L1066.6,274.2L1067.9,272.1L1068.7,269.7L1069.9,267.1L1071.7,265L1072.9,262.3L1074.1,259.6L1075.4,257.4L1076.9,254.9L1078.3,252.5L1079.9,250.4L1081.5,248L1083.2,245.8L1084.9,243.6L1086.6,241.4L1088.1,239.7L1089.9,238.3L1092.3,237.2L1094,236.4L1096.3,235.4L1098.1,235L1100.4,236.3L1102.5,237L1105.1,237.3L1107.1,237.5L1109.2,239.4L1111.2,242.2L1113.4,243.3L1115.3,245L1116.6,247.1L1118.7,249.2L1121.5,251.9L1123.3,253.6L1125.3,255.7L1126.8,257.7L1128.4,259.8L1131,261.6L1132.9,263.8L1134.6,266.2L1134.7,267.6L1135.4,269.8L1136.6,272.2L1138.3,274.1L1139.4,274.7L1140.7,276.8L1142.3,279.4L1143.1,281.5L1144.3,284L1145.4,285.7L1147.5,287.7L1148.9,289.9L1150.2,291.7L1150.7,294.2L1152.5,296.3L1153.3,297.9L1153.6,299.4L1155.1,300.9L1157.1,302.7L1158.8,303.9L1161.3,305.9L1161.8,307.7L1163.6,309.3L1164.5,312.8L1165.6,314.5L1167.1,317.1L1168.7,319.1L1170.4,320.8L1171.5,323.2L1173.6,324.9L1175.7,327L1177.4,329.2L1179.2,331L1181,333.4L1182,335.2L1183.9,337.5L1184.6,339.1L1187.1,341.1L1187.7,343.5L1188.5,346.8L1189.6,348.2L1191.3,350L1192.2,352.8L1194.2,355.7L1195.3,357.1L1196.2,359L1197.5,361.5L1198.4,364.1L1200,365.6L1201.7,367.7L1202.3,370.7L1203.4,372.5L1204.5,375.1L1204.9,376L1206.8,378.1L1207.5,382.1L1208.2,384.4L1208.9,387.3L1209.8,389.7L1211.3,392L1213,393.3L1213.6,394.4L1214.8,397.6L1215.8,399.8L1217.5,402.1L1218.7,404.5L1219.3,406L1220.4,408L1221.6,409.6L1222.8,412.8L1224.5,415L1225.6,418.4L1227,420.2L1227.2,422.3L1228.5,423.7L1229.2,425.1L1231,427.2L1233,429.8L1233.3,432.4L1234.5,434.9L1235.1,436.6L1236.1,439.1L1237.1,441.6L1239.1,443.9L1240.2,446.4L1240.9,448.5L1242.4,451.3L1244.2,452.8L1246,454.3L1247.3,456.8L1248.2,459L1248.8,460.6L1250.4,463L1251.6,465L1253,467.7L1253.6,470L1254.6,472.5L1256.6,473.9L1256.4,476L1257.4,478.9L1258.5,479.8L1260.1,482.1L1260.8,484.6L1262.7,486.7L1264.8,489.1L1266.3,490.4L1267.4,493L1268.2,495.7L1269.5,498.3L1270.8,500.6L1271.8,501.5L1273,503.3L1274,505.8L1275.4,508.6L1276.9,510.7L1278.5,512.9L1279.1,515.5L1280.1,517.8L1282.7,519.9L1284.1,522.7L1285,524.1L1286.6,526.7L1287.2,529L1288.4,530.7L1289,532.4L1291,534L1292.6,537L1293.2,540.4L1295.1,541.5L1296.5,544.3L1298.8,545.5L1299.8,547.5L1301.4,549.7L1302.2,551.6L1304.1,553.5L1304.5,555.3L1305.3,557.7L1307,559.5L1308,561.5L1309.6,563.7L1310.9,565.6L1312.6,568L1314,570.5L1314.4,572.8L1316.6,574.8L1317.5,577.4L1318.3,579.5L1319.6,581.9L1320.6,583.3L1322.5,585.6L1323.9,587.2L1325.4,589.2L1327.2,591L1327.5,592.7L1329.4,595.9L1331,598L1332.2,600.9L1333.5,603.3L1335.1,604.8L1336,606.3L1337.5,607.6L1338.7,610L1340,612.4L1341.2,614.6L1342.9,617L1344.8,618.7L1346.1,620.5L1347.1,622.3L1348.4,624.7L1349.9,626.5L1351.1,629L1352.5,631L1354.6,633.9L1355.4,634.9L1357.1,636.7L1359.3,638.9L1361.3,641.2L1362.3,643.2L1363.4,645L1365.2,647.9L1366.5,649L1368.5,651.3L1370.3,654.2L1371,656.6L1372.1,658.3L1373.5,659.8L1376.1,661.9L1377.2,664.5L1379.5,666.3L1381.2,668.2L1383.4,668.9L1384.6,671.2L1386.3,673.6L1388.2,674.3L1390.8,674.8L1392.3,677.2L1395.4,679L1397.3,679.6L1399.7,680.1L1401.4,680.2L1403.1,680.6L1405.4,681.9L1407.5,682.6L1410.1,683.2L1412.6,682.4L1413.9,681.9L1416.9,680.7L1420.3,680L1423.3,679.6L1425.3,678.3L1428,677.4L1430.2,676.7L1432.2,675.5L1434.5,674.1L1436.9,672.9L1438.9,671.3L1440.6,670L1442.1,668.5L1444.1,666.9L1445.8,665.5L1447.5,664L1449.6,661.9L1451.2,660L1452.7,658.2L1454.3,656L1455.7,654.4L1457.2,652.3L1458.6,650.2L1460.3,648L1461.4,646L1462.9,644L1464,641.5L1465,639.4L1466.3,637L1467.7,634.5L1468.9,632.5L1469.8,630.1L1470.8,627.9L1471.9,625.9L1473,623.3L1474.4,621.2L1475.6,618.9L1476.8,616.4L1477.4,614.6L1478,612.2L1479.5,610L1481.1,607.7L1482.3,605.5L1483.4,603.1L1484.2,601.2L1485.5,598.4L1485.7,595.8L1486.7,593.6L1487.8,592L1488.9,589.4L1490.1,587.2L1490,585L1491.2,582.3L1491.9,579.9L1493.5,577.6L1494,575.3L1494.6,573.2L1495.8,570.6L1496.9,568L1497.6,565.7L1498.5,563.9L1499.5,561.1L1500.2,558.6L1501.1,555.9L1502.1,553.6L1503,551.8L1503.9,549L1504.3,546.3L1505,544.2L1506.1,542L1506.8,539.5L1507.3,537.2L1507.9,534.8L1508.7,532.9L1509.5,531L1510.6,528.2L1511.3,526.1L1511.6,523.7L1512.9,521.1L1513.2,518.2L1514.1,515.9L1515.1,513.2L1515.7,511.3L1516.5,508.6L1517,506.2L1518.2,504.4L1518.6,501.8L1519.2,499.4L1519.8,496.8L1520.2,494.6L1521.2,492.1L1521.8,489.9L1522.5,486.6L1523,484.5L1523.8,482.1L1524.2,479.9L1525.1,477.3L1525.7,475L1526.3,473.5L1527,470.7L1527.4,467.9L1528.2,465.6L1528.7,463L1529.3,460.8L1530.3,457.9L1531,455.5L1531.3,453.4L1532.2,451.6L1532.8,449.4L1533.3,446.4L1534.1,443.6L1534.6,441.4L1534.7,439L1535.7,436L1536.1,433.9L1536.6,431.3L1536.9,429.5L1537.9,426.8L1538.6,424.5L1539.2,422.1L1540.1,419.4L1540.7,417.3L1541.1,414.6L1541.8,412.3L1542.2,409.8L1542.6,407.6L1543.5,404.9L1544.2,402.8L1544.6,399.9L1545.2,398.1L1546.2,395.4L1546.7,393.1L1547.7,391L1547.5,388.7L1548.4,385.8L1549,383.1L1548.9,380.6L1549.7,377.8L1550.5,375.6L1551.3,373.2L1551.5,371L1552.1,368.2L1553.1,366L1554.2,363.8L1553.9,361.7L1554.5,359L1555.3,356.3L1556.2,353.9L1556.7,351.5L1557.5,349L1558.2,346.8L1559.3,344.2L1559.5,341.9L1560.1,339.9L1561.1,337.6L1562.1,335.1L1562.6,332.9L1563.5,329.8L1563.7,328.3L1564.5,324.6L1565.2,322.3L1565.1,319.7L1565.9,317.3L1567.7,314.9L1567.7,313.4L1567.6,310.6L1568.2,308.3L1569.7,305.5L1571,302.8L1571.3,301.1L1571.9,299L1572.4,297.1L1573.2,294.8L1573.4,291L1573.1,289.3L1573.8,287.5L1575.4,283.5L1575.3,281.2L1576.7,278.7L1577.5,275.8L1578,274.4L1578.3,272.2L1578.1,269.4L1579.7,266.3L1579.7,263.9L1581.3,262.4L1583,259.5L1584.5,257.7L1584.5,254.8L1584.9,253.1L1585.7,250.7L1586.5,248.2L1587.1,245.9L1587.5,242.7L1587.6,240.8L1589.8,238.7L1590.5,236.9L1590.3,234.5L1591.7,231.6L1592.4,229.5L1592.8,227.4L1594.8,223.8L1594.4,220.8L1595.3,218.9L1596.3,217.8L1597.1,214L1597,212.3L1597.9,209.8L1598,207.1L1599.8,205.1L1599.3,202.2L1599.9,199.8L1600.6,197.8L1601.4,196.1L1602.1,193L1602.8,190.5L1603.3,187.3L1603.7,186.3L1604.5,184.3L1605.7,182.2L1606.3,178.9L1607,176.1L1607.8,174.7L1610.1,171.8L1610.6,169.3L1611.4,167.2L1612.4,165.5L1613.5,162.3L1614.6,159.6L1615.9,157.7L1617,155.4L1616.9,153L1618.5,150.5L1619.9,149.3L1620.9,147.4L1622.5,144.8L1624,142.9L1625.3,140.5L1626.6,137.5L1629.4,135.5L1631.4,134L1633.3,132.4L1635.5,131.9L1636.7,130.1L1638.3,128.4L1640.3,127.4L1642.8,126.6L1644.6,124.9L1646.2,124.2L1647.8,124.6L1650,124.6L1652.2,124.7L1653.2,125.5L1655.5,127L1657.9,128.1L1659.9,130L1661.3,131.4L1663.5,133L1666,135.4L1668.3,136.9L1669.7,138.4L1672.2,140.6L1672.5,141.7L1674.1,143.5L1675.9,146.9L1677.4,148.7L1678.3,151.6L1680.5,153.4L1682.5,156.2L1684.3,158.7L1685.4,161.4L1686.3,162.4L1687.1,165.2L1689.2,167L1690.4,168.2L1691.2,172.1L1691.9,174.3L1693.1,177.1L1694.2,178.8L1695.1,182L1695.8,183.5L1696.4,186.1L1697.8,187.5L1698,189.7L1699.3,190.8L1700.1,194.7L1701,196.8L1702.2,198.6L1702.7,200L1704.3,202.5L1705.1,205L1705.9,206L1706.7,208.8L1708.5,211.3L1708.8,213.5L1710.6,215.9L1711.9,218L1714.1,219.8L1715,223.2L1715.8,225.1L1717.9,226.5L1720.3,228.2L1721.4,231.3L1722.1,234.1L1723.2,236.1L1723.9,237.9L1725.2,239L1726.7,241.2L1727.8,244L1729.4,246.5L1731.5,248.7L1731,250.8L1732.5,253.3L1734.2,255.1L1734.8,257.7L1735.8,259.5L1737.4,261.1L1738.6,263.7L1740.2,265.9L1740.7,267.7L1742.3,269.6L1743.2,272.1L1743.4,274.9L1744.5,278.1L1745.5,279.8L1746.6,281.4L1748,284L1749.8,286.7L1751.5,289.4L1751.4,292L1751.8,293.4L1752.5,295.3L1753.7,297.4L1755.1,299.3L1755.8,302L1757.7,304.5L1759,307L1760.2,309.4L1760.9,312.5L1761.6,314L1762.4,316.4L1762.7,318.4L1763.2,321.5L1765.7,323.5L1767.7,324.7L1767.8,327.2L1768.4,329.6L1770,332.1L1771.3,334.2L1772.1,336.1L1772.4,338.3L1774.4,340.7L1775.3,343L1776,345.8L1777.4,346.9L1778.1,349L1780.1,351.3L1779.9,354.4L1780.7,356.5L1783.2,359.1L1783.9,360.4L1785.4,362.6L1786.9,365.5L1787.9,368.2L1788.8,369.8L1790.5,372.5L1791.4,375.1L1792.5,376.6L1793.5,378.3L1795,380L1795.5,382.3L1797.3,384.1L1798.4,387.6L1799.8,388.9L1800.9,390.9L1802.6,393.4L1802.8,396.3L1804.4,397.2L1806.8,399.8L1807.2,402L1808.2,404.3L1810,405.6L1811.6,408.4L1811.7,410.5L1812.3,413.7L1814.2,415.1L1815.2,416.8L1816.3,420L1817.5,421.6L1818.9,423.9L1820.8,426.2L1822.9,427.7L1824.4,429.8L1825.5,431.6L1826.6,433.5L1827.6,435.5L1829.3,437.3L1831,439.3L1833.4,441.1L1834.8,442.7L1834.3,444.8L1835.8,447L1836.9,449.6L1837.8,451.8L1838.2,453.4L1839.7,456.4L1841,458.7L1843.4,460.2L1845,461L1846.5,463.2L1847.4,465.8L1849.8,468.2L1851,470.8L1853.1,472.7L1855.4,474.4L1856.3,477.4L1857.7,478.9L1858.7,480.2L1860.5,481.7L1861.2,484.2L1863.4,486.4L1864,488.5L1865.5,490.5L1866.2,491.8L1867.4,493.8L1869.2,495.9" stroke="#0000ff" stroke-width="9.6"/>
</g>
<g fill="none" stroke="#000" stroke-width="4" stroke-linecap="round" stroke-dasharray="2.1 22.50" stroke-dashoffset="1.05">
<path d="M254.2,100.9H522.4V1246.8H566.1"/>
<path d="M566.6,1246.8H791.1V100.9H879.5"/>
<path d="M880,100.9H1059.7V1246.8H1192.9"/>
<path d="M1193.4,1246.8H1328.3V100.9H1506.3"/>
<path d="M1506.8,100.9H1597V1246.8H1819.7"/>
<path d="M1820.2,1246.8H1835"/>
</g>
<path d="M1865.0,61.5V1283.1999999999998M230.6,61.5H1865.0M1842.4,1246.8H1864M1853.2,1181H1864M1842.4,1115.1H1864M1853.2,1049.2H1864M1842.4,983.4H1864M1853.2,917.5H1864M1842.4,851.7H1864M1853.2,785.8H1864M1842.4,720H1864M1853.2,654.1H1864M1842.4,588.3H1864M1853.2,522.4H1864M1842.4,456.6H1864M1853.2,390.8H1864M1842.4,324.9H1864M1853.2,259H1864M1842.4,193.2H1864M1853.2,127.3H1864M388,62.5V73.9M522.3,62.5V84.7M656.6,62.5V73.9M791,62.5V84.7M925.3,62.5V73.9M1059.6,62.5V84.7M1193.9,62.5V73.9M1328.2,62.5V84.7M1462.5,62.5V73.9M1596.9,62.5V84.7M1731.2,62.5V73.9" stroke="#000" stroke-width="4.1" stroke-linecap="round" fill="none"/>
<g stroke-width="9.6" stroke-linecap="round">
<line x1="272.3" y1="207" x2="400" y2="207" stroke="#000"/>
<line x1="272.3" y1="278.3" x2="400" y2="278.3" stroke="#ff0000"/>
<line x1="272.3" y1="348.3" x2="400" y2="348.3" stroke="#0000ff"/>
</g>
<g font-family="'Liberation Serif', 'DejaVu Serif', serif" fill="#000">
<g font-size="45" text-anchor="end">
<text transform="translate(213,1259) scale(1,1.045)">0</text>
<text transform="translate(213,1127.3) scale(1,1.045)">10</text>
<text transform="translate(213,995.6) scale(1,1.045)">20</text>
<text transform="translate(213,863.9) scale(1,1.045)">30</text>
<text transform="translate(213,732.2) scale(1,1.045)">40</text>
<text transform="translate(213,600.5) scale(1,1.045)">50</text>
<text transform="translate(213,468.8) scale(1,1.045)">60</text>
<text transform="translate(213,337.1) scale(1,1.045)">70</text>
<text transform="translate(213,205.4) scale(1,1.045)">80</text>
<text transform="translate(213,73.7) scale(1,1.045)">90</text>
</g>
<g font-size="45" text-anchor="middle">
<text transform="translate(252,1333.8) scale(1,1.045)">0</text>
<text transform="translate(520.6,1333.8) scale(1,1.045)">600</text>
<text transform="translate(789.3,1333.8) scale(1,1.045)">1200</text>
<text transform="translate(1057.9,1333.8) scale(1,1.045)">1800</text>
<text transform="translate(1326.5,1333.8) scale(1,1.045)">2400</text>
<text transform="translate(1595.2,1333.8) scale(1,1.045)">3000</text>
<text transform="translate(1863.8,1333.8) scale(1,1.045)">3600</text>
</g>
<g font-size="53">
<text x="275" y="147">On</text>
<text x="806" y="147">On</text>
<text x="1343" y="149.5">On</text>
<text x="543" y="1228">Off</text>
<text x="1077" y="1228">Off</text>
<text x="1615" y="1228">Off</text>
</g>
<g font-size="57">
<text x="411" y="224.7">P10</text>
<text x="411" y="295">P05</text>
<text x="411" y="365.5">P01</text>
</g>
<text x="1059.5" y="1426" font-size="56.5" text-anchor="middle">Time (s)</text>
<text transform="translate(78,668) rotate(-90)" font-size="57" text-anchor="middle">Current (mA)</text>
</g>
</svg>
</body></html>
